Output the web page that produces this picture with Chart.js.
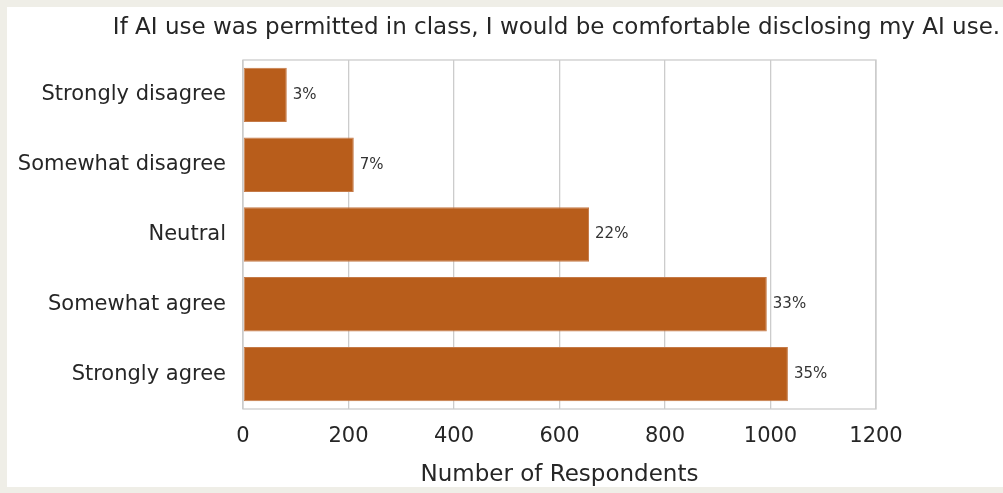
<!DOCTYPE html>
<html>
<head>
<meta charset="utf-8">
<script src="https://cdn.jsdelivr.net/npm/chart.js@4.4.1/dist/chart.umd.min.js"></script>
<style>
  html, body { margin: 0; padding: 0; background: #efeee7; }
  #wrap { position: absolute; left: 7px; top: 7px; width: 996px; height: 480px; background: #ffffff; }
  canvas { display: block; }
</style>
</head>
<body>
<div id="wrap"><canvas id="likertChart" width="996" height="480"></canvas></div>
<script>
/* ================= DATA ================= */

const categories = [
    "Strongly disagree",
    "Somewhat disagree",
    "Neutral",
    "Somewhat agree",
    "Strongly agree"
];

const respondents = [83, 210, 656, 993, 1033];

const xTicks = [0, 200, 400, 600, 800, 1000, 1200];

const chartTitle = "If AI use was permitted in class, I would be comfortable disclosing my AI use.";

const total = respondents.reduce((a, b) => a + b, 0);
const percentLabels = respondents.map(v => Math.round(v / total * 100) + "%");

const FONT = "'DejaVu Sans', 'Noto Sans', sans-serif";
const TEXT = "#262626";
const GRID = "#cccccc";


/* ================= PLUGINS ================= */

// outline round the plot area plus the heading above it
const frameAndTitle = {
    id: "frameAndTitle",
    afterDraw(chart) {
        const { ctx, chartArea: a } = chart;
        ctx.save();
        ctx.strokeStyle = GRID;
        ctx.lineWidth = 1.3;
        ctx.strokeRect(a.left, a.top, a.right - a.left, a.bottom - a.top);

        ctx.fillStyle = TEXT;
        ctx.font = "23px " + FONT;
        ctx.textAlign = "center";
        ctx.textBaseline = "middle";
        ctx.fillText(chartTitle, (a.left + a.right) / 2 - 3, 21);
        ctx.restore();
    }
};

// percentage share written just past the end of each bar
const shareLabels = {
    id: "shareLabels",
    afterDatasetsDraw(chart) {
        const { ctx } = chart;
        const meta = chart.getDatasetMeta(0);
        ctx.save();
        ctx.fillStyle = "#333333";
        ctx.font = "15px " + FONT;
        ctx.textAlign = "left";
        ctx.textBaseline = "middle";
        meta.data.forEach((bar, i) => {
            ctx.fillText(percentLabels[i], bar.x + 6, bar.y);
        });
        ctx.restore();
    }
};


/* ================= CHART ================= */

new Chart(document.getElementById("likertChart"), {

    type: "bar",

    data: {
        labels: categories,
        datasets: [{
                data: respondents,
                backgroundColor: "#b85d1b",
                borderColor: "#c57a47",
                borderWidth: 1,
                borderSkipped: false,
                categoryPercentage: 0.78,
                barPercentage: 1
            }]
    },

    plugins: [frameAndTitle, shareLabels],

    options: {
        indexAxis: "y",
        responsive: false,
        animation: false,

        layout: {
            padding: { top: 53, right: 127, bottom: 0, left: 0 }
        },

        plugins: {
            legend: { display: false },
            tooltip: { enabled: false }
        },

        scales: {
            x: {
                min: 0,
                max: 1200,
                afterBuildTicks: (scale) => {
                    scale.ticks = xTicks.map(v => ({ value: v }));
                },
                afterFit: (scale) => { scale.height = 78; },
                grid: {
                    color: GRID,
                    lineWidth: 1.3,
                    drawTicks: false
                },
                border: { display: false },
                ticks: {
                    color: TEXT,
                    font: { family: FONT, size: 21 },
                    padding: 15,
                    maxRotation: 0,
                    callback: (value) => String(value)
                },
                title: {
                    display: true,
                    text: "Number of Respondents",
                    color: TEXT,
                    font: { family: FONT, size: 23, lineHeight: 1.05 },
                    padding: { top: 0, bottom: 0 }
                }
            },

            y: {
                afterFit: (scale) => { scale.width = 236; },
                grid: {
                    display: false,
                    drawTicks: false
                },
                border: { display: false },
                ticks: {
                    color: TEXT,
                    font: { family: FONT, size: 21 },
                    padding: 17
                }
            }
        }
    }

});
</script>
</body>
</html>
